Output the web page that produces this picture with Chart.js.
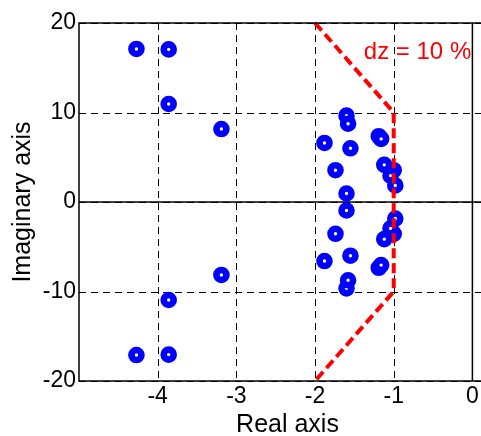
<!DOCTYPE html>
<html><head><meta charset="utf-8">
<script src="https://cdn.jsdelivr.net/npm/chart.js@4"></script>
<style>html,body{margin:0;padding:0;overflow:hidden;background:#fff}canvas{display:block}</style>
</head><body>
<canvas id="c" width="496" height="436"></canvas>
<script>
// Pole locations (real, imaginary)
const poleRe = [-4.27,-3.86,-3.86,-3.19,-1.60,-1.58,-1.88,-1.55,-1.74,-1.60,-1.19,-1.16,-1.12,-1.00,-1.04,-0.98,
                -4.27,-3.86,-3.86,-3.19,-1.60,-1.58,-1.88,-1.55,-1.74,-1.60,-1.19,-1.16,-1.12,-1.00,-1.04,-0.98];
const poleIm = [17.1,17.05,10.95,8.15,9.65,8.75,6.6,6.0,3.55,0.95,7.35,7.05,4.15,3.55,2.95,1.85,
                -17.1,-17.05,-10.95,-8.15,-9.65,-8.75,-6.6,-6.0,-3.55,-0.95,-7.35,-7.05,-4.15,-3.55,-2.95,-1.85];
// Damping boundary (dz = 10 %)
const dzRe = [-2,-1,-1,-2];
const dzIm = [20,10,-10,-20];
const dzLabel = 'dz = 10 %';
const xTicks = [-4,-3,-2,-1,0];
const yTicks = [-20,-10,0,10,20];
const xTitle = 'Real axis';
const yTitle = 'Imaginary axis';

const FONT = "'Liberation Sans', Arial, Helvetica, sans-serif";

const frame = {
  id: 'frame',
  beforeDatasetsDraw(chart) {
    const {ctx, chartArea: a, scales: {x, y}} = chart;
    ctx.save();
    ctx.strokeStyle = '#000';
    ctx.lineWidth = 1;
    ctx.setLineDash([7,5]);
    xTicks.forEach(v => {
      const px = Math.round(x.getPixelForValue(v)) + 0.5;
      ctx.beginPath(); ctx.moveTo(px, a.top); ctx.lineTo(px, a.bottom); ctx.stroke();
    });
    yTicks.forEach(v => {
      const py = Math.round(y.getPixelForValue(v)) + 0.5;
      ctx.beginPath(); ctx.moveTo(a.left, py); ctx.lineTo(a.right, py); ctx.stroke();
    });
    ctx.setLineDash([]);
    ctx.lineWidth = 1.5;
    const x0 = x.getPixelForValue(0), y0 = y.getPixelForValue(0);
    ctx.beginPath(); ctx.moveTo(x0, a.top); ctx.lineTo(x0, a.bottom); ctx.stroke();
    ctx.beginPath(); ctx.moveTo(a.left, y0); ctx.lineTo(a.right, y0); ctx.stroke();
    ctx.restore();
  },
  afterDatasetsDraw(chart) {
    const {ctx, chartArea: a, scales: {x, y}} = chart;
    ctx.save();
    ctx.strokeStyle = '#000';
    ctx.lineWidth = 1.5;
    ctx.strokeRect(a.left, a.top, a.right - a.left, a.bottom - a.top);
    ctx.fillStyle = '#ff0000';
    ctx.font = '24px ' + FONT;
    ctx.textAlign = 'left';
    ctx.textBaseline = 'alphabetic';
    ctx.fillText(dzLabel, x.getPixelForValue(-1.38), y.getPixelForValue(16));
    ctx.restore();
  }
};

new Chart(document.getElementById('c'), {
  type: 'scatter',
  data: {
    datasets: [
      {
        label: dzLabel,
        data: dzRe.map((v, i) => ({x: v, y: dzIm[i]})),
        showLine: true,
        borderColor: '#ff0000',
        borderWidth: 4,
        borderDash: [10,5],
        pointRadius: 0,
        fill: false,
        clip: false
      },
      {
        label: 'poles',
        data: poleRe.map((v, i) => ({x: v, y: poleIm[i]})),
        pointStyle: 'circle',
        pointRadius: 5,
        pointBorderWidth: 6.6,
        pointBorderColor: '#0000ff',
        pointBackgroundColor: '#ffffff',
        showLine: false
      }
    ]
  },
  options: {
    responsive: false,
    devicePixelRatio: 1,
    animation: false,
    events: [],
    layout: {autoPadding: false, padding: {top: 23, right: 0, bottom: 0, left: 0}},
    plugins: {legend: {display: false}, tooltip: {enabled: false}},
    scales: {
      x: {
        type: 'linear', min: -5, max: 0.3,
        afterBuildTicks: s => { s.ticks = xTicks.map(v => ({value: v})); },
        afterFit: s => { s.height = 55; s.paddingLeft = 0; s.paddingRight = 0; },
        grid: {display: false, drawTicks: false, tickLength: 0},
        border: {display: false},
        ticks: {color: '#000', font: {family: FONT, size: 23}, padding: 2, maxRotation: 0},
        title: {display: true, text: xTitle, color: '#000', font: {family: FONT, size: 25, lineHeight: 1}, padding: {top: 0, bottom: -2}}
      },
      y: {
        type: 'linear', min: -20, max: 20,
        afterBuildTicks: s => { s.ticks = yTicks.map(v => ({value: v})); },
        afterFit: s => { s.width = 79; s.paddingTop = 0; s.paddingBottom = 0; },
        grid: {display: false, drawTicks: false, tickLength: 0},
        border: {display: false},
        ticks: {color: '#000', font: {family: FONT, size: 23}, padding: 3},
        title: {display: true, text: yTitle, color: '#000', font: {family: FONT, size: 25, lineHeight: 1}, padding: {top: 11, bottom: 0}}
      }
    }
  },
  plugins: [frame]
});
</script>
</body></html>
